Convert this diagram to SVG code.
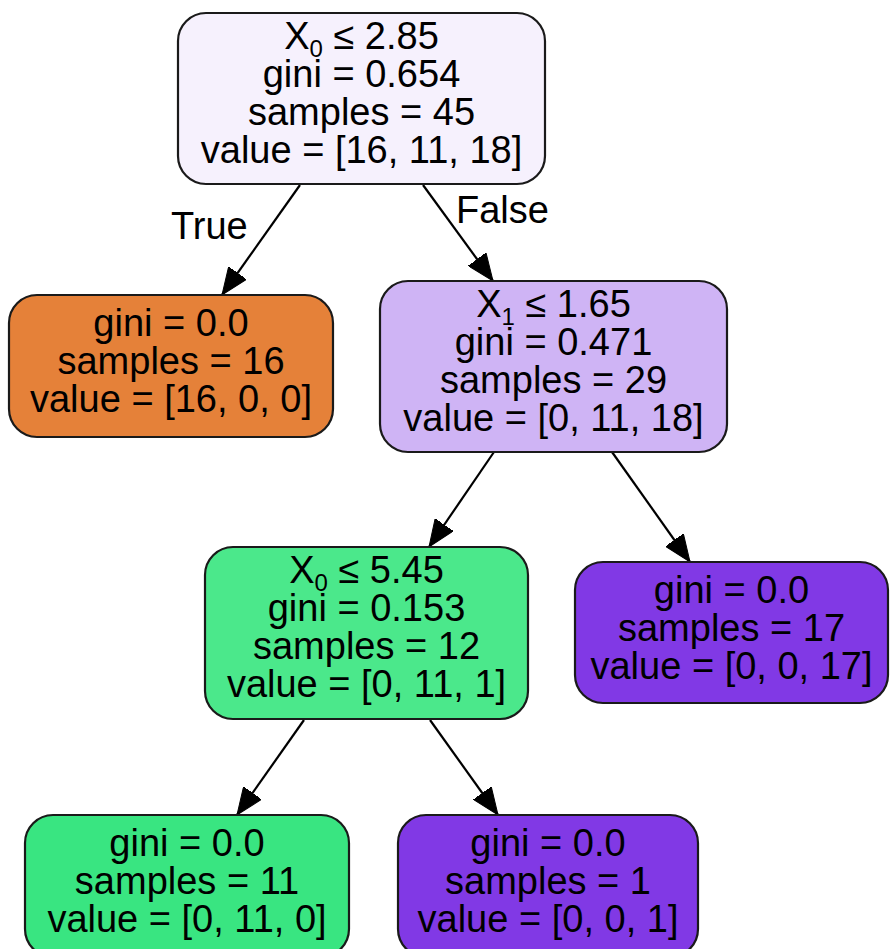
<svg xmlns="http://www.w3.org/2000/svg" width="890" height="949" viewBox="0 0 890 949">
  <style>
    .node rect { stroke: #1a1a1a; stroke-width: 2.2; }
    .node text, .edge-label { font-family: "Liberation Sans", Arial, Helvetica, sans-serif; font-size: 38px; fill: #000; text-anchor: middle; }
    .edge-label { text-anchor: start; }
    .edge line { stroke: #000; stroke-width: 2.2; fill: none; marker-end: url(#arrow); }
    .sub { font-size: 24px; }
  </style>
  <defs>
    <marker id="arrow" viewBox="0 0 27 22" refX="27" refY="11" markerWidth="27" markerHeight="22" markerUnits="userSpaceOnUse" orient="auto">
      <path d="M0,0 L27,11 L0,22 Z" fill="#000" stroke="#000" stroke-width="1"/>
    </marker>
  </defs>
  <rect width="890" height="949" fill="#fff"/>

  <!-- connectors -->
  <g id="edges" class="edge">
    <line x1="300" y1="185" x2="222" y2="295"/>
    <line x1="423" y1="185" x2="493" y2="281"/>
    <line x1="494" y1="452" x2="429" y2="547"/>
    <line x1="612" y1="452" x2="690" y2="562"/>
    <line x1="304" y1="720" x2="237" y2="815"/>
    <line x1="430" y1="720" x2="498" y2="815"/>
    <text class="edge-label" x="171" y="239">True</text>
    <text class="edge-label" x="456" y="223">False</text>
  </g>

  <!-- root split -->
  <g id="node0" class="node">
    <rect x="178" y="13" width="367" height="171" rx="28" fill="#f6f1fd"/>
    <text x="361.5" y="49">X<tspan class="sub" dy="8">0</tspan><tspan dy="-8"> ≤ 2.85</tspan></text>
    <text x="361.5" y="87">gini = 0.654</text>
    <text x="361.5" y="125">samples = 45</text>
    <text x="361.5" y="163">value = [16, 11, 18]</text>
  </g>

  <!-- leaf: class 0 -->
  <g id="node1" class="node">
    <rect x="9" y="295" width="324" height="142" rx="28" fill="#e58139"/>
    <text x="171" y="336">gini = 0.0</text>
    <text x="171" y="374">samples = 16</text>
    <text x="171" y="412">value = [16, 0, 0]</text>
  </g>

  <!-- second split -->
  <g id="node2" class="node">
    <rect x="380" y="281" width="347" height="171" rx="28" fill="#cfb4f5"/>
    <text x="553.5" y="317">X<tspan class="sub" dy="8">1</tspan><tspan dy="-8"> ≤ 1.65</tspan></text>
    <text x="553.5" y="355">gini = 0.471</text>
    <text x="553.5" y="393">samples = 29</text>
    <text x="553.5" y="431">value = [0, 11, 18]</text>
  </g>

  <!-- third split -->
  <g id="node3" class="node">
    <rect x="205" y="547" width="323" height="172" rx="28" fill="#4be88b"/>
    <text x="366.5" y="583">X<tspan class="sub" dy="8">0</tspan><tspan dy="-8"> ≤ 5.45</tspan></text>
    <text x="366.5" y="621">gini = 0.153</text>
    <text x="366.5" y="659">samples = 12</text>
    <text x="366.5" y="697">value = [0, 11, 1]</text>
  </g>

  <!-- leaf: class 2 -->
  <g id="node4" class="node">
    <rect x="575" y="562" width="313" height="141" rx="28" fill="#8139e5"/>
    <text x="731.5" y="603">gini = 0.0</text>
    <text x="731.5" y="641">samples = 17</text>
    <text x="731.5" y="679">value = [0, 0, 17]</text>
  </g>

  <!-- leaf: class 1 -->
  <g id="node5" class="node">
    <rect x="25" y="815" width="324" height="142" rx="28" fill="#39e581"/>
    <text x="187" y="856">gini = 0.0</text>
    <text x="187" y="894">samples = 11</text>
    <text x="187" y="932">value = [0, 11, 0]</text>
  </g>

  <!-- leaf: class 2 -->
  <g id="node6" class="node">
    <rect x="398" y="815" width="300" height="142" rx="28" fill="#8139e5"/>
    <text x="548" y="856">gini = 0.0</text>
    <text x="548" y="894">samples = 1</text>
    <text x="548" y="932">value = [0, 0, 1]</text>
  </g>
</svg>
